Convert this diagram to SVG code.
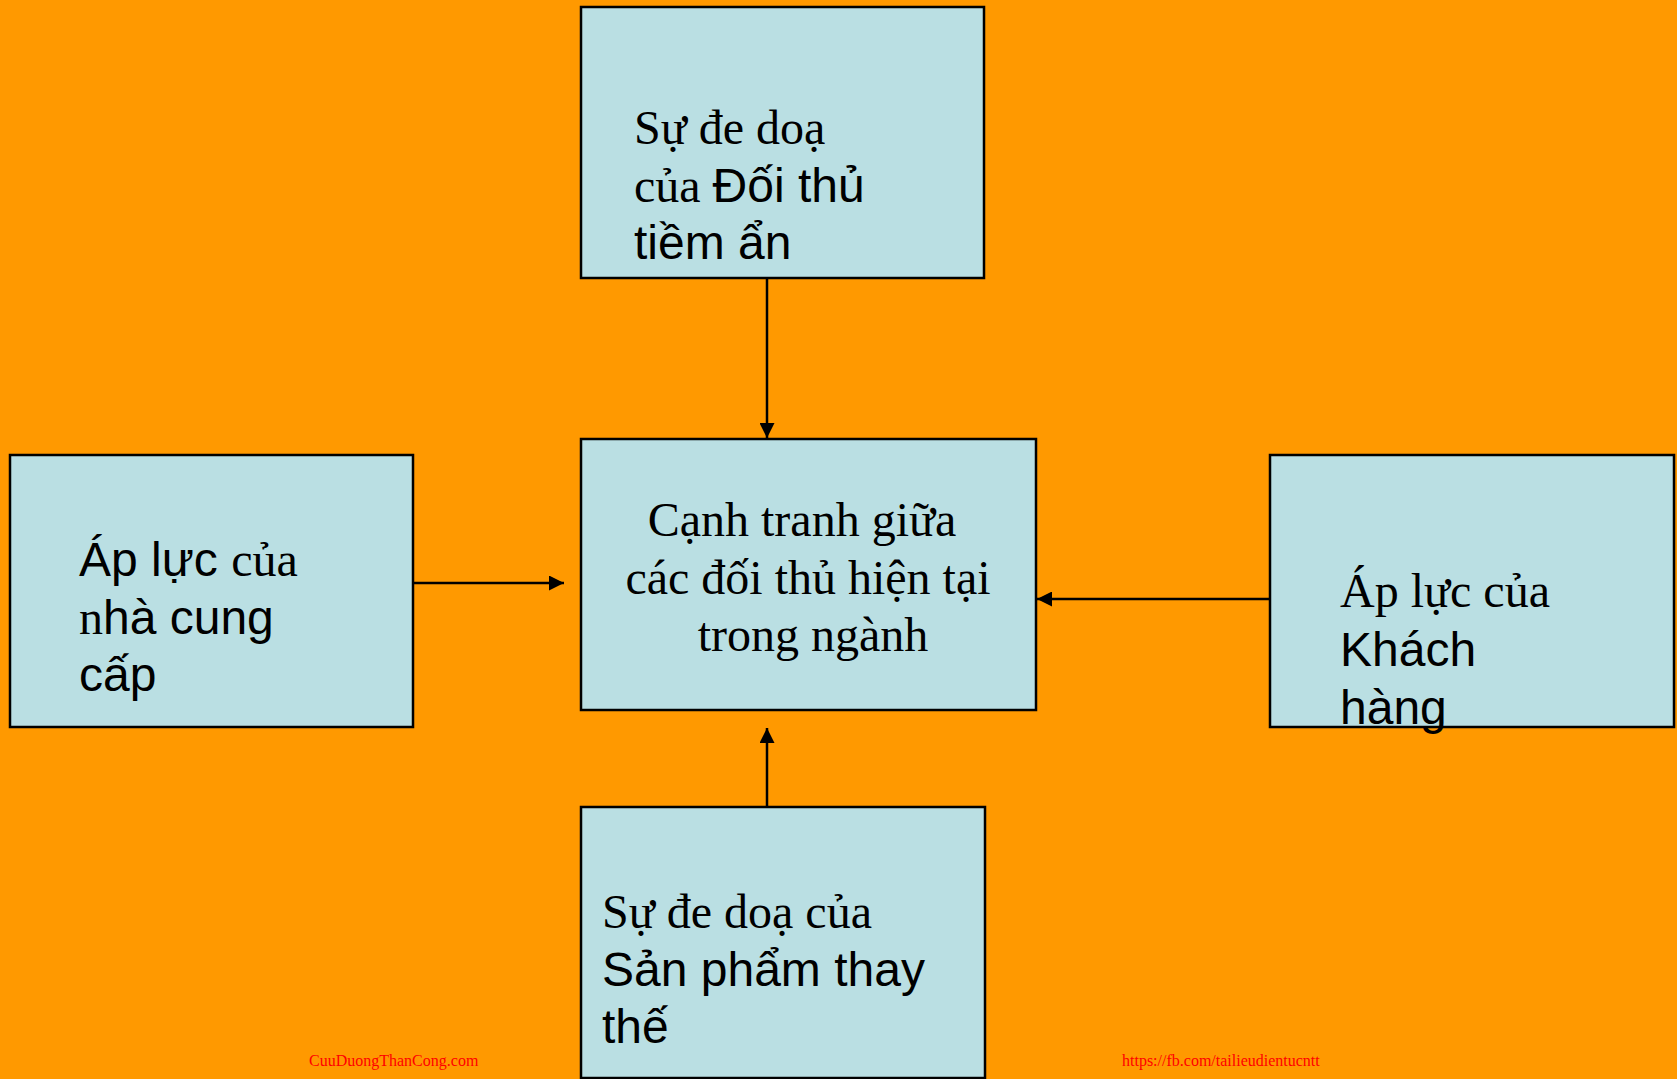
<svg xmlns="http://www.w3.org/2000/svg" width="1677" height="1079" viewBox="0 0 1677 1079">
<style>
.box{fill:#BADFE3;stroke:#000;stroke-width:2.5}
.t{font-size:48px;fill:#000}
.s{font-family:"Liberation Serif","Times New Roman",serif}
.a{font-family:"Liberation Sans",Arial,sans-serif}
.conn{stroke:#000;stroke-width:2.5;fill:none}
.foot{font-family:"Liberation Serif","Times New Roman",serif;font-size:16px;fill:#FF0000}
</style>
<defs>
<marker id="arr" viewBox="0 0 10 10" refX="10" refY="5" markerWidth="6" markerHeight="6" orient="auto" markerUnits="strokeWidth">
<path d="M0,0 L10,5 L0,10 z" fill="#000"/>
</marker>
</defs>
<rect x="0" y="0" width="1677" height="1079" fill="#FF9900"/>
<g id="connectors">
<line class="conn" x1="767" y1="279" x2="767" y2="438" marker-end="url(#arr)"/>
<line class="conn" x1="413" y1="583" x2="564" y2="583" marker-end="url(#arr)"/>
<line class="conn" x1="1270" y1="599" x2="1037" y2="599" marker-end="url(#arr)"/>
<line class="conn" x1="767" y1="807" x2="767" y2="728" marker-end="url(#arr)"/>
</g>
<g id="node-top">
<rect class="box" x="581" y="7" width="403" height="271"/>
<text class="t s" x="634" y="144">Sự đe doạ</text>
<text class="t" x="634" y="202"><tspan class="s">của </tspan><tspan class="a">Đối thủ</tspan></text>
<text class="t a" x="634" y="259">tiềm ẩn</text>
</g>
<g id="node-center">
<rect class="box" x="581" y="439" width="455" height="271"/>
<text class="t s" x="802" y="536" text-anchor="middle">Cạnh tranh giữa</text>
<text class="t s" x="808" y="594" text-anchor="middle">các đối thủ hiện tại</text>
<text class="t s" x="813" y="651" text-anchor="middle">trong ngành</text>
</g>
<g id="node-left">
<rect class="box" x="10" y="455" width="403" height="272"/>
<text class="t" x="79" y="576"><tspan class="a">Áp lực </tspan><tspan class="s">của</tspan></text>
<text class="t" x="79" y="634"><tspan class="s">n</tspan><tspan class="a">hà cung</tspan></text>
<text class="t a" x="79" y="691">cấp</text>
</g>
<g id="node-right">
<rect class="box" x="1270" y="455" width="404" height="272"/>
<text class="t s" x="1340" y="607">Áp lực của</text>
<text class="t a" x="1340" y="666">Khách</text>
<text class="t a" x="1340" y="724">hàng</text>
</g>
<g id="node-bottom">
<rect class="box" x="581" y="807" width="404" height="271"/>
<text class="t s" x="602" y="928">Sự đe doạ của</text>
<text class="t a" x="602" y="986">Sản phẩm thay</text>
<text class="t a" x="602" y="1043">thế</text>
</g>
<text class="foot" x="309" y="1066">CuuDuongThanCong.com</text>
<text class="foot" x="1122" y="1066">https://fb.com/tailieudientucntt</text>
</svg>
